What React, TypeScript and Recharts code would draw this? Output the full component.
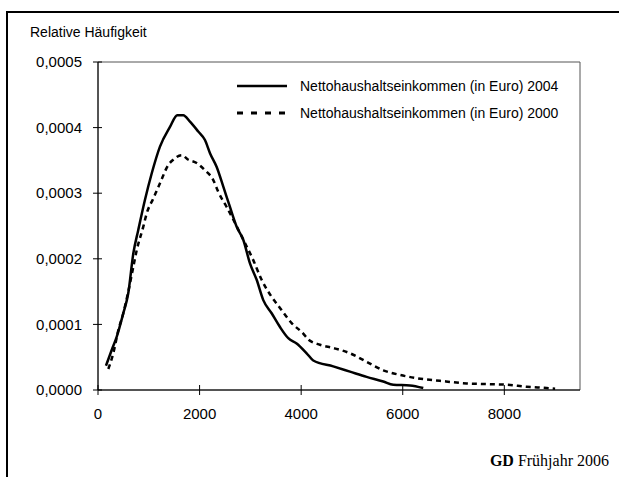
import React from "react";
import { LineChart, Line, XAxis, YAxis, ReferenceArea, Legend } from "recharts";

// ---- data ----
const income2004X = [157, 270, 368, 498, 595, 695, 793, 925, 1057, 1220, 1417, 1561, 1679, 1811, 1974, 2106, 2205, 2337, 2467, 2598, 2730, 2860, 2992, 3124, 3254, 3419, 3583, 3746, 3911, 4108, 4238, 4632, 4961, 5289, 5616, 5813, 6142, 6404];
const income2004Y = [0.000037, 0.000061, 0.000081, 0.000117, 0.000147, 0.000208, 0.000244, 0.00029, 0.00033, 0.000371, 0.000401, 0.000419, 0.000419, 0.000409, 0.000394, 0.000381, 0.000361, 0.00034, 0.00031, 0.000279, 0.000249, 0.000229, 0.000193, 0.000168, 0.000137, 0.000117, 0.000096, 0.000079, 0.000071, 0.000056, 0.000045, 0.000036, 0.000028, 0.00002, 0.000013, 0.000008, 0.000007, 0.000003];

const income2000X = [203, 301, 400, 498, 596, 683, 762, 892, 958, 1089, 1220, 1384, 1482, 1647, 1778, 1942, 2106, 2270, 2368, 2533, 2894, 3057, 3222, 3419, 3583, 3813, 4041, 4140, 4370, 4632, 4961, 5289, 5616, 5945, 6274, 6732, 7258, 7652, 8045, 8439, 8833, 9000];
const income2000Y = [0.000032, 0.000056, 0.000091, 0.000117, 0.00015, 0.000183, 0.000213, 0.000249, 0.000269, 0.000292, 0.000315, 0.000343, 0.000351, 0.000358, 0.000351, 0.000346, 0.000335, 0.00032, 0.000302, 0.000279, 0.000224, 0.000198, 0.000168, 0.000142, 0.000125, 0.000102, 0.000086, 0.000077, 0.000069, 0.000064, 0.000056, 0.000043, 0.00003, 0.000023, 0.000018, 0.000014, 0.00001, 0.000009, 0.000008, 0.000005, 0.000003, 0.000002];

const xTicks = [0, 2000, 4000, 6000, 8000];
const yTicks = [0, 0.0001, 0.0002, 0.0003, 0.0004, 0.0005];
const seriesNames = [
  "Nettohaushaltseinkommen (in Euro) 2004",
  "Nettohaushaltseinkommen (in Euro) 2000",
];
const yTitle = "Relative Häufigkeit";
const sourceBold = "GD";
const sourceRest = " Frühjahr 2006";

const data2004 = income2004X.map((x, i) => ({ x, y: income2004Y[i] }));
const data2000 = income2000X.map((x, i) => ({ x, y: income2000Y[i] }));

const SANS = "'Liberation Sans', Arial, sans-serif";
const SERIF = "'Liberation Serif', 'Times New Roman', serif";
const TICK_SIZE = 5;
const TICK_MARGIN = 8;

const fmtY = (v: number) => v.toFixed(4).replace(".", ",");

const YTick = (props: any) => {
  const { x, y, payload } = props;
  const axisX = x + TICK_SIZE + TICK_MARGIN;
  return (
    <g>
      <line x1={axisX - 5} x2={axisX + 4} y1={y} y2={y} stroke="#000" strokeWidth={1} />
      <text x={axisX - 16} y={y} dy="0.35em" textAnchor="end" fontFamily={SANS} fontSize={15} fill="#000">
        {fmtY(payload.value)}
      </text>
    </g>
  );
};

const XTick = (props: any) => {
  const { x, y, payload } = props;
  const axisY = y - TICK_SIZE - TICK_MARGIN;
  return (
    <g>
      <line x1={x} x2={x} y1={axisY - 5} y2={axisY + 5} stroke="#000" strokeWidth={1} />
      <text x={x} y={axisY + 24} dy="0.35em" textAnchor="middle" fontFamily={SANS} fontSize={15} fill="#000">
        {payload.value}
      </text>
    </g>
  );
};

const LegendContent = () => (
  <div style={{ fontFamily: SANS, fontSize: 14, color: "#000" }}>
    {seriesNames.map((name, i) => (
      <div key={name} style={{ display: "flex", alignItems: "center", height: 27 }}>
        <svg width={52} height={10} style={{ marginRight: 11 }}>
          <line
            x1={0}
            x2={50}
            y1={5}
            y2={5}
            stroke="#000"
            strokeWidth={i === 0 ? 2.5 : 3}
            strokeDasharray={i === 0 ? undefined : "6 8"}
          />
        </svg>
        <span style={{ whiteSpace: "nowrap" }}>{name}</span>
      </div>
    ))}
  </div>
);

export default function App() {
  return (
    <div style={{ position: "absolute", left: 0, top: 0, width: 619, height: 477, background: "#fff", overflow: "hidden" }}>
      <div style={{ position: "absolute", left: 6, top: 11, width: 613, height: 2, background: "#000" }} />
      <div style={{ position: "absolute", left: 6, top: 11, width: 2, height: 466, background: "#000" }} />
      <div style={{ position: "absolute", left: 30, top: 24, fontFamily: SANS, fontSize: 14, color: "#000", whiteSpace: "nowrap" }}>
        {yTitle}
      </div>
      <div style={{ position: "absolute", right: 10, top: 452, fontFamily: SERIF, fontSize: 16, color: "#000", whiteSpace: "nowrap" }}>
        <b>{sourceBold}</b>
        {sourceRest}
      </div>
      <LineChart width={619} height={477} margin={{ top: 62, right: 39, bottom: 0, left: 0 }} style={{ position: "absolute", left: 0, top: 0 }}>
        <ReferenceArea x1={0} x2={9490} y1={0} y2={0.0005} fill="none" stroke="#555" strokeWidth={1} ifOverflow="extendDomain" />
        <XAxis
          type="number"
          dataKey="x"
          domain={[0, 9490]}
          ticks={xTicks}
          height={87}
          stroke="#000"
          tickLine={false}
          tickSize={TICK_SIZE}
          tickMargin={TICK_MARGIN}
          tick={<XTick />}
          allowDataOverflow
        />
        <YAxis
          type="number"
          dataKey="y"
          domain={[0, 0.0005]}
          ticks={yTicks}
          width={98}
          stroke="#000"
          tickLine={false}
          tickSize={TICK_SIZE}
          tickMargin={TICK_MARGIN}
          tick={<YTick />}
          allowDataOverflow
        />
        <Legend
          layout="vertical"
          verticalAlign="middle"
          align="center"
          content={<LegendContent />}
          wrapperStyle={{ position: "absolute", top: 72, left: 237, width: 340 }}
        />
        <Line
          data={data2000}
          dataKey="y"
          name={seriesNames[1]}
          type="monotone"
          stroke="#000"
          strokeWidth={2.5}
          strokeDasharray="5 4"
          dot={false}
          isAnimationActive={false}
        />
        <Line
          data={data2004}
          dataKey="y"
          name={seriesNames[0]}
          type="monotone"
          stroke="#000"
          strokeWidth={2.5}
          dot={false}
          isAnimationActive={false}
        />
      </LineChart>
    </div>
  );
}
